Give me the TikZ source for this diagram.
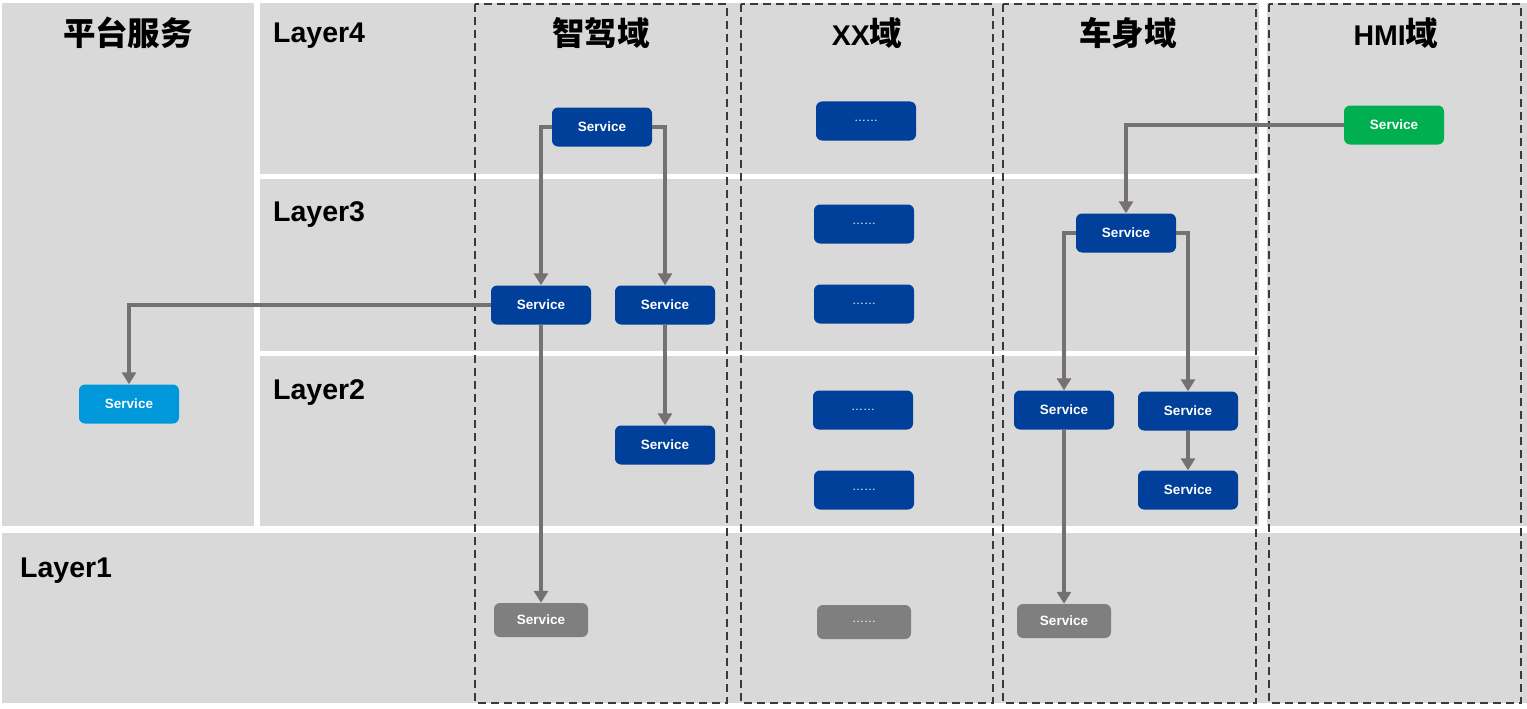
\documentclass[tikz,border=0pt]{standalone}
\usepackage{fontspec}
\setmainfont{Liberation Sans}
\newfontfamily\cjk[Scale=1.14]{Noto Sans CJK SC}
\usetikzlibrary{arrows.meta}
\definecolor{panel}{HTML}{D9D9D9}
\definecolor{svblue}{HTML}{003F9A}
\definecolor{svlight}{HTML}{0098DA}
\definecolor{svgreen}{HTML}{00B050}
\definecolor{svgray}{HTML}{7F7F7F}
\definecolor{conn}{HTML}{767171}
\definecolor{dashc}{HTML}{3A3A3A}
\begin{document}
\begin{tikzpicture}[x=1pt,y=-1pt,
  panelbox/.style={fill=panel,draw=none},
  domainbox/.style={draw=dashc,line width=2pt,dash pattern=on 8pt off 5pt},
  svc/.style={rounded corners=6pt,minimum width=100pt,minimum height=39pt,text=white,
     font=\bfseries\fontsize{13.5}{15}\selectfont,inner sep=0pt},
  blue/.style={svc,fill=svblue},
  lightblue/.style={svc,fill=svlight},
  green/.style={svc,fill=svgreen},
  low/.style={svc,fill=svgray,minimum width=94pt,minimum height=34pt},
  link/.style={draw=conn,line width=3.5pt,-{Triangle[width=14pt,length=12pt]}},
  title/.style={font=\bfseries\fontsize{28.5}{32}\selectfont,text=black,inner sep=0pt}]
\useasboundingbox (0,0) rectangle (1527,709);
\fill[white] (0,0) rectangle (1527,709);
% panels
\fill[panelbox] (2,3) rectangle (254,526);
\fill[panelbox] (260,3) rectangle (1259,174);
\fill[panelbox] (260,179) rectangle (1259,351);
\fill[panelbox] (260,356) rectangle (1259,526);
\fill[panelbox] (1267,3) rectangle (1527,526);
\fill[panelbox] (2,533) rectangle (1527,703);
% domain boxes
\draw[domainbox] (475,4) rectangle (727,703);
\draw[domainbox] (741,4) rectangle (993,703);
\draw[domainbox] (1003,4) rectangle (1256,703);
\draw[domainbox] (1269,4) rectangle (1521,703);
% titles
\node[title,anchor=base] (tpt) at (128,46) {\cjk 平台服务};
\node[title,anchor=base] (tzj) at (601,46) {\cjk 智驾域};
\node[title,anchor=base] (txx) at (867,46) {XX\cjk 域};
\node[title,anchor=base] (tcs) at (1128,46) {\cjk 车身域};
\node[title,anchor=base] (thmi) at (1396,46) {HMI\cjk 域};
\node[title,anchor=base west] (l4) at (273,43) {Layer4};
\node[title,anchor=base west] (l3) at (273,221) {Layer3};
\node[title,anchor=base west] (l2) at (273,399) {Layer2};
\node[title,anchor=base west] (l1) at (20,577) {Layer1};
% service nodes
\node[lightblue] (pt) at (129,404) {Service};
\node[blue] (zj1) at (602,127) {Service};
\node[blue] (zj2) at (541,305) {Service};
\node[blue] (zj3) at (665,305) {Service};
\node[blue] (zj4) at (665,445) {Service};
\node[low] (zj5) at (541,620) {Service};
\node[blue] (xx1) at (866,121) {\fontsize{12}{14}\mdseries ……};
\node[blue] (xx2) at (864,224) {\fontsize{12}{14}\mdseries ……};
\node[blue] (xx3) at (864,304) {\fontsize{12}{14}\mdseries ……};
\node[blue] (xx4) at (863,410) {\fontsize{12}{14}\mdseries ……};
\node[blue] (xx5) at (864,490) {\fontsize{12}{14}\mdseries ……};
\node[low] (xx6) at (864,622) {\fontsize{12}{14}\mdseries ……};
\node[green] (hmi) at (1394,125) {Service};
\node[blue] (cs1) at (1126,233) {Service};
\node[blue] (cs2) at (1064,410) {Service};
\node[blue] (cs3) at (1188,411) {Service};
\node[blue] (cs4) at (1188,490) {Service};
\node[low] (cs5) at (1064,621) {Service};
% connectors
\draw[link] (zj1.west) -| (zj2.north);
\draw[link] (zj1.east) -| (zj3.north);
\draw[link] (zj2.west) -| (pt.north);
\draw[link] (zj2.south) -- (zj5.north);
\draw[link] (zj3.south) -- (zj4.north);
\draw[link] (hmi.west) -| (cs1.north);
\draw[link] (cs1.west) -| (cs2.north);
\draw[link] (cs1.east) -| (cs3.north);
\draw[link] (cs2.south) -- (cs5.north);
\draw[link] (cs3.south) -- (cs4.north);
\end{tikzpicture}
\end{document}
